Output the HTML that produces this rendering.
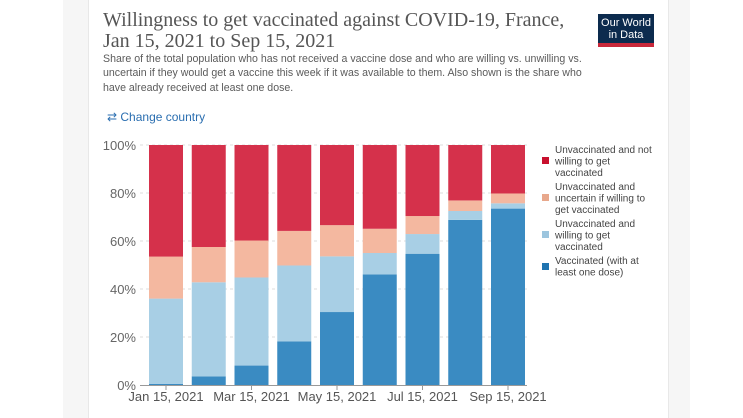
<!DOCTYPE html>
<html><head><meta charset="utf-8"><style>
body{margin:0;width:743px;height:418px;background:#fff;position:relative;overflow:hidden;font-family:"Liberation Sans",sans-serif}
.gray{position:absolute;top:0;left:63px;width:627px;height:418px;background:#f6f6f6}
.card{position:absolute;top:0;left:88px;width:579px;height:418px;background:#fff;border-left:1px solid #e8e8e8;border-right:1px solid #e8e8e8}
.title{position:absolute;left:103px;top:10px;font-family:"Liberation Serif",serif;font-size:20px;line-height:21px;color:#555;margin:0;font-weight:normal}
.sub{position:absolute;left:103px;top:52px;width:560px;font-size:10.6px;line-height:14.3px;color:#5b5b5b;white-space:nowrap}
.chg{position:absolute;left:107px;top:110px;font-size:12px;color:#2a6eb0}
.logo{position:absolute;left:598px;top:14px;width:56px;height:33px;background:#0c2b4e;color:#fff;font-size:11px;line-height:12px;text-align:center;padding-top:3px;box-sizing:border-box;border-bottom:4px solid #c9283a}
</style></head><body>
<div class="gray"></div>
<div class="card"></div>
<h1 class="title">Willingness to get vaccinated against COVID-19, France,<br>Jan 15, 2021 to Sep 15, 2021</h1>
<div class="sub">Share of the total population who has not received a vaccine dose and who are willing vs. unwilling vs.<br>uncertain if they would get a vaccine this week if it was available to them. Also shown is the share who<br>have already received at least one dose.</div>
<div class="chg">⇄ Change country</div>
<div class="logo">Our World<br>in Data</div>
<svg id="chart" width="743" height="418" style="position:absolute;left:0;top:0"></svg>
<script>
const categories=["Jan 15, 2021","Feb 15, 2021","Mar 15, 2021","Apr 15, 2021","May 15, 2021","Jun 15, 2021","Jul 15, 2021","Aug 15, 2021","Sep 15, 2021"];
const vaccinated=[0.5,3.6,8.1,18.2,30.4,46.1,54.7,68.8,73.5];
const willing=[35.5,39.2,36.7,31.6,23.2,8.9,8.2,3.7,2.2];
const uncertain=[17.5,14.7,15.4,14.4,13.0,10.1,7.5,4.4,4.1];
const unwilling=[46.5,42.5,39.8,35.8,33.4,34.9,29.6,23.1,20.2];
const yTicks=[0,20,40,60,80,100];
const xTickLabels=["Jan 15, 2021","Mar 15, 2021","May 15, 2021","Jul 15, 2021","Sep 15, 2021"];
const seriesNames=["Unvaccinated and not willing to get vaccinated","Unvaccinated and uncertain if willing to get vaccinated","Unvaccinated and willing to get vaccinated","Vaccinated (with at least one dose)"];
const NS="http://www.w3.org/2000/svg";
const svg=document.getElementById('chart');
const y0=385,y1=145,x0=149,step=42.75,bw=34;
const y=v=>y0-(v/100)*(y0-y1);
const xb=i=>x0+i*step;
function el(t,a){const e=document.createElementNS(NS,t);for(const k in a)e.setAttribute(k,a[k]);svg.appendChild(e);return e;}
yTicks.forEach(t=>{
  if(t>0){const g=el('line',{x1:140,x2:527,y1:y(t),y2:y(t),stroke:'#ddd','stroke-dasharray':'3,3'});
  
  }
  const tx=el('text',{x:136,y:y(t)+5,'text-anchor':'end','font-size':'13',fill:'#666','font-family':'Liberation Sans, sans-serif'});
  tx.textContent=t+'%';
  
  
});
const series=[[vaccinated,'#3a8bc2'],[willing,'#a8cfe5'],[uncertain,'#f4b8a0'],[unwilling,'#d5314b']];
categories.forEach((c,i)=>{
  let acc=0;
  series.forEach(([arr,col],si)=>{
    const v=arr[i];
    const r=el('rect',{x:xb(i),y:y(acc+v),width:bw,height:y(acc)-y(acc+v),fill:col});
    
    
    acc+=v;
  });
});
const ax=el('line',{x1:140,x2:527,y1:y0+0.5,y2:y0+0.5,stroke:'#999'});


xTickLabels.forEach(l=>{
  const i=categories.indexOf(l);const cx=xb(i)+bw/2;
  el('line',{x1:cx,x2:cx,y1:y0,y2:y0+5,stroke:'#999'});
  const tx=el('text',{x:cx,y:401,'text-anchor':'middle','font-size':'13',fill:'#555','font-family':'Liberation Sans, sans-serif'});
  tx.textContent=l;
  
  
});
const legCols=['#c8102e','#e8a88c','#9cc5de','#2074b0'];
const legLines=[["Unvaccinated and not","willing to get","vaccinated"],["Unvaccinated and","uncertain if willing to","get vaccinated"],["Unvaccinated and","willing to get","vaccinated"],["Vaccinated (with at","least one dose)"]];
const legTop=[149,186,223,260];
legLines.forEach((lines,k)=>{
  const mid=legTop[k]+(lines.length===3?11:6);
  const r=el('rect',{x:542,y:mid-3,width:7,height:7,fill:legCols[k]});
  
  
  lines.forEach((ln,j)=>{
    const t=el('text',{x:555,y:legTop[k]+j*11.5+4,'font-size':'10',fill:'#444','font-family':'Liberation Sans, sans-serif'});
    t.textContent=ln;
    
    
  });
});
</script>
</body></html>
